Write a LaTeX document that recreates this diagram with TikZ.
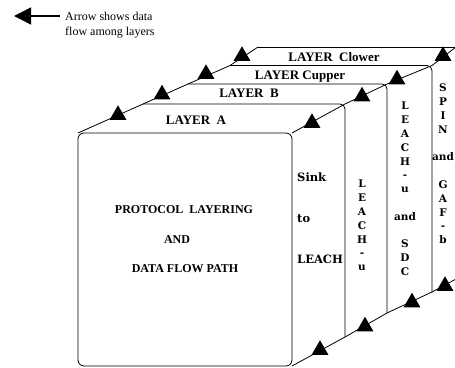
\documentclass[tikz,border=0pt]{standalone}
\usepackage{fontspec}
\setmainfont{Liberation Serif}
\newfontfamily\slabfont{DejaVu Serif}
\usetikzlibrary{shapes.geometric,arrows.meta}
\begin{document}
\begin{tikzpicture}[x=1pt,y=-1pt,
  edge/.style={line width=0.8pt},
  tri/.style={regular polygon,regular polygon sides=3,fill=black,minimum size=19.5pt,inner sep=0pt,outer sep=0pt},
  lay/.style={font=\fontsize{13}{15}\selectfont\bfseries,inner sep=0pt},
  fronttxt/.style={font=\fontsize{12}{14}\selectfont\bfseries,inner sep=0pt},
  sidetxt/.style={font=\slabfont\fontsize{10.5}{13.8}\selectfont\bfseries,inner sep=0pt,align=center},
  sinktxt/.style={font=\slabfont\fontsize{11.5}{13.8}\selectfont\bfseries,inner sep=0pt},
  legtxt/.style={font=\fontsize{12}{15}\selectfont,inner sep=0pt},
]
\useasboundingbox (0,0) rectangle (455,367);

% corner coordinates
\coordinate (A0) at (78,133);
\coordinate (A1) at (143,104);
\coordinate (A2) at (188,84);
\coordinate (A3) at (230,65.5);
\coordinate (A4) at (258,47);
\coordinate (B0) at (292,133);
\coordinate (B1) at (345,104);
\coordinate (B2) at (387,84);
\coordinate (B3) at (432,65.5);
\coordinate (B4) at (456,47);
\coordinate (C0) at (292,366);
\coordinate (C1) at (345,337);
\coordinate (C2) at (387,313);
\coordinate (C3) at (432,292);
\coordinate (C4) at (456,279);
\coordinate (D4) at (456,47);

% layer outlines (back to front)
\draw[edge] (A4) -- (D4);
\draw[edge,rounded corners=5] (A3) -- (B3) -- (C3);
\draw[edge,rounded corners=5] (A2) -- (B2) -- (C2);
\draw[edge,rounded corners=5] (A1) -- (B1) -- (C1);
\draw[edge,rounded corners=6] (A0) rectangle (C0);

% diagonals
\draw[edge] (A0) -- (A1) -- (A2) -- (A3) -- (A4);
\draw[edge] (B0) -- (B1) -- (B2) -- (B3) -- (B4);
\draw[edge] (C0) -- (C1) -- (C2) -- (C3) -- (C4);

% triangles
\node[tri] (t1) at (118,115) {};
\node[tri] (t2) at (162,94.5) {};
\node[tri] (t3) at (206,74) {};
\node[tri] (t4) at (242,56) {};
\node[tri] (t5) at (312,123) {};
\node[tri] (t6) at (362,96.5) {};
\node[tri] (t7) at (397,79.5) {};
\node[tri] (t8) at (443,56) {};
\node[tri] (t9) at (320,350) {};
\node[tri] (t10) at (365,326.5) {};
\node[tri] (t11) at (412,302.5) {};
\node[tri] (t12) at (445,286) {};

% layer labels
\node[lay,anchor=base] (la) at (196,124.5) {LAYER\ \ A};
\node[lay,anchor=base] (lb) at (249,97.5) {LAYER\ \ B};
\node[lay,anchor=base] (lcu) at (300,79.5) {LAYER Cupper};
\node[lay,anchor=base] (lcl) at (334,61.5) {LAYER\ \ Clower};

% front texts
\node[fronttxt,anchor=base] (f1) at (184,213) {PROTOCOL\ \ LAYERING};
\node[fronttxt,anchor=base] (f2) at (177,243) {AND};
\node[fronttxt,anchor=base] (f3) at (185,272) {DATA FLOW PATH};

% side texts
\node[sinktxt,anchor=base west] (s1a) at (297,181) {Sink};
\node[sinktxt,anchor=base west] (s1b) at (297,222) {to};
\node[sinktxt,anchor=base west] (s1c) at (297,263) {LEACH};
\node[sidetxt] (s2) at (362,225.5) {L\\E\\A\\C\\H\\-\\u};
\node[sidetxt] (s3) at (405,189) {L\\E\\A\\C\\H\\-\\u\\[13.8pt]and\\[13.8pt]S\\D\\C};
\node[sidetxt] (s4) at (443,164) {S\\P\\I\\N\\[13.8pt]and\\[13.8pt]G\\A\\F\\-\\b};

% legend
\coordinate (legS) at (60,16);
\coordinate (legE) at (14,16);
\draw[line width=1.5pt,-{Triangle[length=17pt,width=17pt]}] (legS) -- (legE);
\node[legtxt,anchor=base west] (lg1) at (65,20) {Arrow shows data};
\node[legtxt,anchor=base west] (lg2) at (65,35) {flow among layers};
\end{tikzpicture}
\end{document}
